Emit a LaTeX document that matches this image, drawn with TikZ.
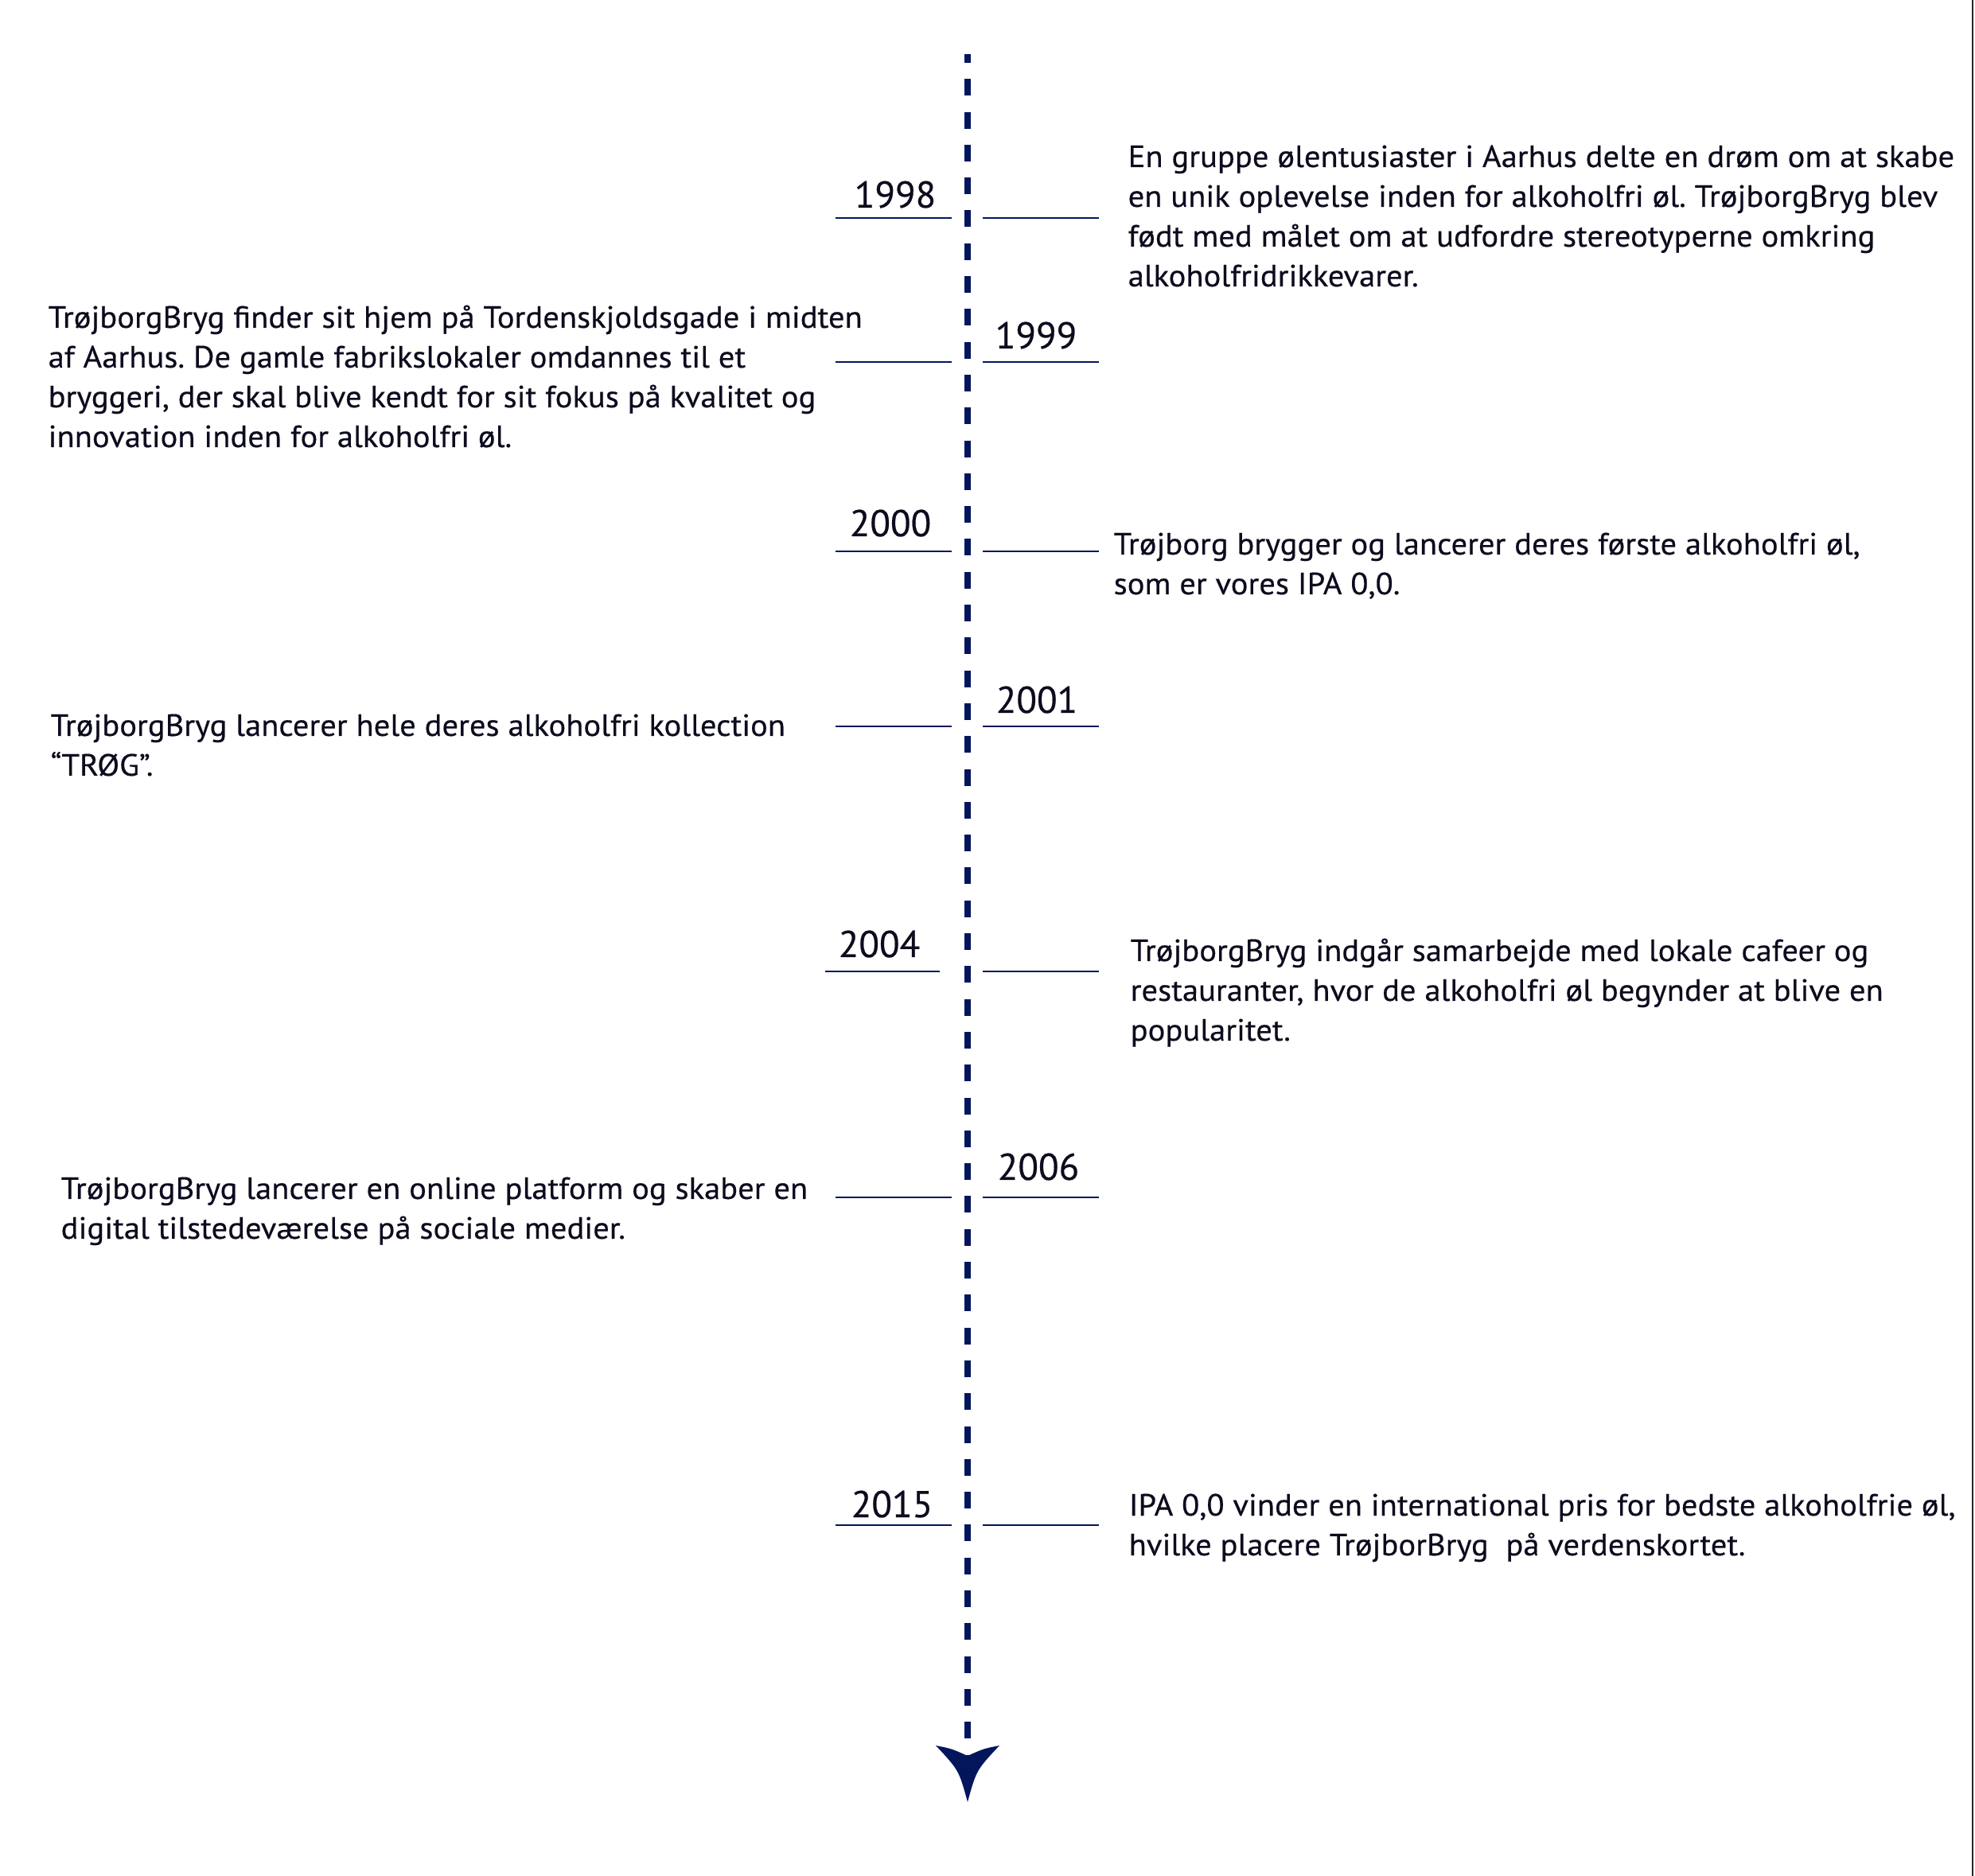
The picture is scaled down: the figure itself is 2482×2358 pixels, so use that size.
\documentclass[tikz,border=0pt]{standalone}
\usepackage{fontspec}
\setmainfont{PT Sans}
\newfontfamily\bodyfont[FakeStretch=1.05,FakeBold=0.4]{PT Sans}
\newfontfamily\yearfont[FakeBold=0.4]{PT Sans}
\definecolor{navy}{RGB}{3,22,92}
\definecolor{ink}{RGB}{12,12,30}
\newcommand{\bodylines}[1]{\vtop{\baselineskip=15pt #1}}
\frenchspacing
\begin{document}
\begin{tikzpicture}[x=0.3pt,y=-0.3pt,
  tick/.style={draw=navy, line width=0.6pt},
  yearlabel/.style={anchor=base, inner sep=0pt, font=\yearfont\fontsize{14.1}{17}\selectfont, text=ink},
  bodytext/.style={anchor=base west, inner sep=0pt, font=\bodyfont\fontsize{11.6}{15}\selectfont\frenchspacing, text=ink},
  axisline/.style={draw=navy, line width=2.4pt, dash pattern=on 6.3pt off 6.09pt, dash phase=3pt}]
\useasboundingbox (0,0) rectangle (2482,2358);
\fill[white] (0,0) rectangle (2482,2358);
% right border
\draw[black!85, line width=0.6pt] (2479,0) -- (2479,2358);
% axis
\coordinate (axtop) at (1216,68);
\coordinate (axend) at (1216,2207);
\coordinate (tip) at (1216,2265);
\draw[axisline] (axtop) -- (axend);
\fill[navy] (axend) .. controls (1196,2198) .. (1176,2194) .. controls (1205,2225) .. (tip)
  .. controls (1227,2225) .. (1256,2194) .. controls (1236,2198) .. (axend) -- cycle;
% ticks
\foreach \y in {274,455,693,913,1505,1917}{
  \draw[tick] (1050,\y) -- (1196,\y);
  \draw[tick] (1235,\y) -- (1381,\y);
}
\draw[tick] (1037,1221) -- (1181,1221);
\draw[tick] (1235,1221) -- (1381,1221);
% years
\node[yearlabel] (y1998) at (1125,261) {1998};
\node[yearlabel] (y1999) at (1302,438) {1999};
\node[yearlabel] (y2000) at (1119,674) {2000};
\node[yearlabel] (y2001) at (1303,896) {2001};
\node[yearlabel] (y2004) at (1105,1203) {2004};
\node[yearlabel] (y2006) at (1305,1483) {2006};
\node[yearlabel] (y2015) at (1121,1907) {2015};
% texts
\node[bodytext] (t1998) at (1417,210) {\bodylines{%
\hbox{En gruppe ølentusiaster i Aarhus delte en drøm om at skabe}
\hbox{en unik oplevelse inden for alkoholfri øl. TrøjborgBryg blev}
\hbox{født med målet om at udfordre stereotyperne omkring}
\hbox{alkoholfridrikkevarer.}}};
\node[bodytext] (t1999) at (60,412) {\bodylines{%
\hbox{TrøjborgBryg finder sit hjem på Tordenskjoldsgade i midten}
\hbox{af Aarhus. De gamle fabrikslokaler omdannes til et}
\hbox{bryggeri, der skal blive kendt for sit fokus på kvalitet og}
\hbox{innovation inden for alkoholfri øl.}}};
\node[bodytext] (t2000) at (1399,697) {\bodylines{%
\hbox{Trøjborg brygger og lancerer deres første alkoholfri øl,}
\hbox{som er vores IPA 0,0.}}};
\node[bodytext] (t2001) at (63,925) {\bodylines{%
\hbox{TrøjborgBryg lancerer hele deres alkoholfri kollection}
\hbox{“TRØG”.}}};
\node[bodytext] (t2004) at (1420,1208) {\bodylines{%
\hbox{TrøjborgBryg indgår samarbejde med lokale cafeer og}
\hbox{restauranter, hvor de alkoholfri øl begynder at blive en}
\hbox{popularitet.}}};
\node[bodytext] (t2006) at (76,1507) {\bodylines{%
\hbox{TrøjborgBryg lancerer en online platform og skaber en}
\hbox{digital tilstedeværelse på sociale medier.}}};
\node[bodytext] (t2015) at (1418,1905) {\bodylines{%
\hbox{IPA 0,0 vinder en international pris for bedste alkoholfrie øl,}
\hbox{hvilke placere TrøjborBryg\ \ på verdenskortet.}}};
\end{tikzpicture}
\end{document}
